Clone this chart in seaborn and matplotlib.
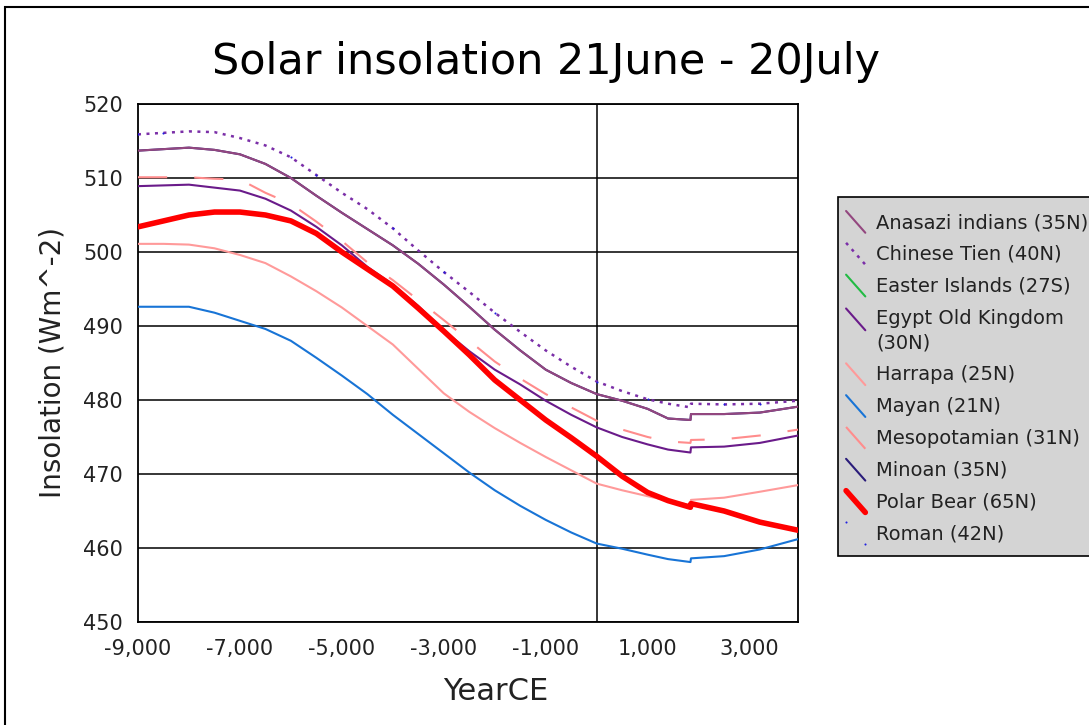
import matplotlib
matplotlib.use("Agg")
import matplotlib.pyplot as plt
import seaborn as sns
import pandas as pd
from matplotlib.lines import Line2D
from matplotlib.legend_handler import HandlerLine2D
from matplotlib.patches import Rectangle
from matplotlib.ticker import FuncFormatter

# ---------------- data ----------------
years = [-9000, -8500, -8000, -7500, -7000, -6500, -6000, -5500, -5000, -4500,
         -4000, -3500, -3000, -2500, -2000, -1500, -1000, -500, 0, 500,
         1000, 1400, 1840, 1850, 2500, 3200, 3950]

anasazi = [513.7, 513.9, 514.1, 513.8, 513.2, 511.9, 510.0, 507.6, 505.3, 503.1,
           500.9, 498.4, 495.6, 492.6, 489.5, 486.7, 484.1, 482.3, 480.8, 479.9,
           478.8, 477.5, 477.3, 478.1, 478.1, 478.3, 479.1]
chinese = [515.9, 516.1, 516.3, 516.2, 515.4, 514.4, 512.8, 510.4, 508.0, 505.8,
           503.2, 500.2, 497.3, 494.6, 491.8, 489.2, 486.7, 484.5, 482.5, 481.2,
           480.1, 479.5, 479.0, 479.5, 479.4, 479.5, 479.9]
easter = []
egypt = [508.9, 509.0, 509.1, 508.7, 508.3, 507.2, 505.6, 503.4, 500.9, 498.0,
         495.6, 492.7, 489.4, 486.6, 484.1, 482.1, 479.9, 478.0, 476.3, 475.0,
         474.0, 473.3, 472.9, 473.6, 473.7, 474.2, 475.2]
harrapa = [501.1, 501.1, 501.0, 500.5, 499.6, 498.5, 496.7, 494.7, 492.5, 490.0,
           487.5, 484.2, 480.9, 478.4, 476.2, 474.2, 472.3, 470.5, 468.7, 467.8,
           467.0, 466.4, 465.8, 466.5, 466.8, 467.6, 468.5]
mayan = [492.6, 492.6, 492.6, 491.8, 490.7, 489.6, 488.0, 485.7, 483.3, 480.8,
         478.0, 475.4, 472.8, 470.2, 467.8, 465.7, 463.8, 462.1, 460.6, 459.9,
         459.1, 458.5, 458.1, 458.6, 458.9, 459.8, 461.2]
mesopotamian = [510.1, 510.1, 510.1, 509.9, 509.8, 508.0, 506.5, 504.1, 501.5, 498.6,
                496.2, 493.5, 490.8, 488.0, 485.2, 482.9, 480.8, 479.0, 477.2, 476.0,
                475.0, 474.4, 474.2, 474.6, 474.7, 475.2, 476.0]
minoan = [513.7, 513.9, 514.1, 513.8, 513.2, 511.9, 510.0, 507.6, 505.3, 503.1,
          500.9, 498.4, 495.6, 492.6, 489.5, 486.7, 484.1, 482.3, 480.8, 479.9,
          478.8, 477.5, 477.3, 478.1, 478.1, 478.3, 479.1]
polar_bear = [503.4, 504.2, 505.0, 505.4, 505.4, 505.0, 504.2, 502.5, 500.0, 497.7,
              495.4, 492.4, 489.3, 486.1, 482.7, 480.0, 477.3, 474.9, 472.4, 469.7,
              467.5, 466.4, 465.5, 466.0, 465.0, 463.5, 462.4]
roman_years = [-9000, -8500, -6000, -5500, -4000, -3000, -2000, 0, 1000, 2500, 3200]
roman = [515.9, 516.1, 512.8, 510.4, 503.2, 497.3, 491.8, 482.5, 480.1, 479.4, 479.5]

labels = ["Anasazi indians (35N)", "Chinese Tien (40N)", "Easter Islands (27S)",
          "Egypt Old Kingdom\n(30N)", "Harrapa (25N)", "Mayan (21N)",
          "Mesopotamian (31N)", "Minoan (35N)", "Polar Bear (65N)", "Roman (42N)"]
title = "Solar insolation 21June - 20July"
x_ticks = [-9000, -7000, -5000, -3000, -1000, 1000, 3000]
y_ticks = [450, 460, 470, 480, 490, 500, 510, 520]

# ---------------- figure ----------------
sns.set_theme(style="white")
plt.rcParams["font.family"] = ["DejaVu Sans"]

W, H = 1089, 725
fig = plt.figure(figsize=(W / 100, H / 100), dpi=100)
ax = fig.add_axes([138 / W, 1 - 622 / H, (798 - 138) / W, (622 - 104) / H])

series = [
    (years, anasazi, dict(color="#93477F", lw=1.5, ls="-"), 3),
    (years, chinese, dict(color="#7B2FA8", lw=1.8, ls=(0, (1.2, 2.2))), 4),
    (years, easter, dict(color="#22BB44", lw=1.5, ls="-"), 3),
    (years, egypt, dict(color="#6A1B8A", lw=1.5, ls="-"), 3),
    (years, harrapa, dict(color="#FF9A9A", lw=1.5, ls="-"), 3),
    (years, mayan, dict(color="#1874D6", lw=1.5, ls="-"), 3),
    (years, mesopotamian, dict(color="#FF8C8C", lw=1.5, ls=(0, (14, 13))), 3),
    (years, minoan, dict(color="#2A1C7A", lw=1.5, ls="-"), 2),
    (years, polar_bear, dict(color="#FF0000", lw=4.0, ls="-"), 5),
]

handles = []
for (xs, ys, st, z), lab in zip(series, labels[:-1]):
    if len(ys) > 0:
        df = pd.DataFrame({"year": xs[:len(ys)], "val": ys})
        sns.lineplot(data=df, x="year", y="val", ax=ax, color=st["color"],
                     linewidth=st["lw"], linestyle=st["ls"], sort=False,
                     estimator=None, zorder=z, legend=False)
    handles.append(Line2D([], [], color=st["color"], lw=st["lw"], ls=st["ls"]))

df_r = pd.DataFrame({"year": roman_years, "val": roman})
sns.lineplot(data=df_r, x="year", y="val", ax=ax, color="#2020E0", linestyle="none",
             marker=".", markersize=3, markeredgewidth=0, sort=False,
             estimator=None, zorder=6, legend=False)
handles.append(Line2D([], [], color="#2020E0", ls="none", marker=".", markersize=3,
                      markeredgewidth=0))

ax.set_xlim(-9000, 3950)
ax.set_ylim(450, 520)
ax.set_xticks(x_ticks)
ax.set_yticks(y_ticks)
ax.xaxis.set_major_formatter(FuncFormatter(lambda v, p: f"{int(v):,}"))
ax.yaxis.grid(True, color="black", lw=1.1)
ax.xaxis.grid(False)
ax.axvline(0, color="black", lw=1.1, zorder=1)
for s in ax.spines.values():
    s.set_color("black")
    s.set_linewidth(1.3)
ax.tick_params(axis="both", direction="out", length=6, width=1.2, color="black",
               labelsize=15, labelcolor="#222222", pad=5)
ax.tick_params(axis="x", pad=6)
ax.set_xlabel("")
ax.set_ylabel("Insolation (Wm^-2)", fontsize=20, color="#222222", labelpad=12)
fig.text(496 / W, 1 - 692 / H, "YearCE", fontsize=22, color="#222222",
         ha="center", va="center")
fig.text(546 / W, 1 - 62 / H, title, fontsize=31, color="black",
         ha="center", va="center")


class DiagHandler(HandlerLine2D):
    def __init__(self, dy=0.0, **kw):
        super().__init__(**kw)
        self.dy = dy

    def create_artists(self, legend, orig_handle, xdescent, ydescent, width,
                       height, fontsize, trans):
        x0 = -xdescent
        y0 = -ydescent + self.dy
        l = Line2D([x0 + 0.05 * width, x0 + 0.95 * width],
                   [y0 + height * 1.25, y0 - height * 0.35])
        self.update_prop(l, orig_handle, legend)
        l.set_transform(trans)
        return [l]


# legend box (drawn as its own rectangle so its edges match the reference)
fig.patches.append(Rectangle((838 / W, 1 - 556 / H), (1100 - 838) / W, (556 - 197) / H,
                             transform=fig.transFigure, facecolor="#D4D4D4",
                             edgecolor="black", lw=1.2, zorder=0))

hmap = {h: DiagHandler() for h in handles}
hmap[handles[3]] = DiagHandler(dy=9)
leg = fig.legend(handles, labels, loc="upper left",
                 bbox_to_anchor=(845 / W, 1 - 213 / H),
                 fontsize=14, frameon=False,
                 handlelength=1.1, handletextpad=0.5, labelspacing=0.66,
                 borderpad=0, borderaxespad=0, handler_map=hmap)
for t in leg.get_texts():
    t.set_color("#222222")
    t.set_linespacing(1.4)

fig.patches.append(Rectangle((5 / W, -0.02), 1.05, 1 - 7 / H + 0.02,
                             transform=fig.transFigure, fill=False,
                             edgecolor="black", lw=1.5))

fig.savefig("out.png", dpi=100)
